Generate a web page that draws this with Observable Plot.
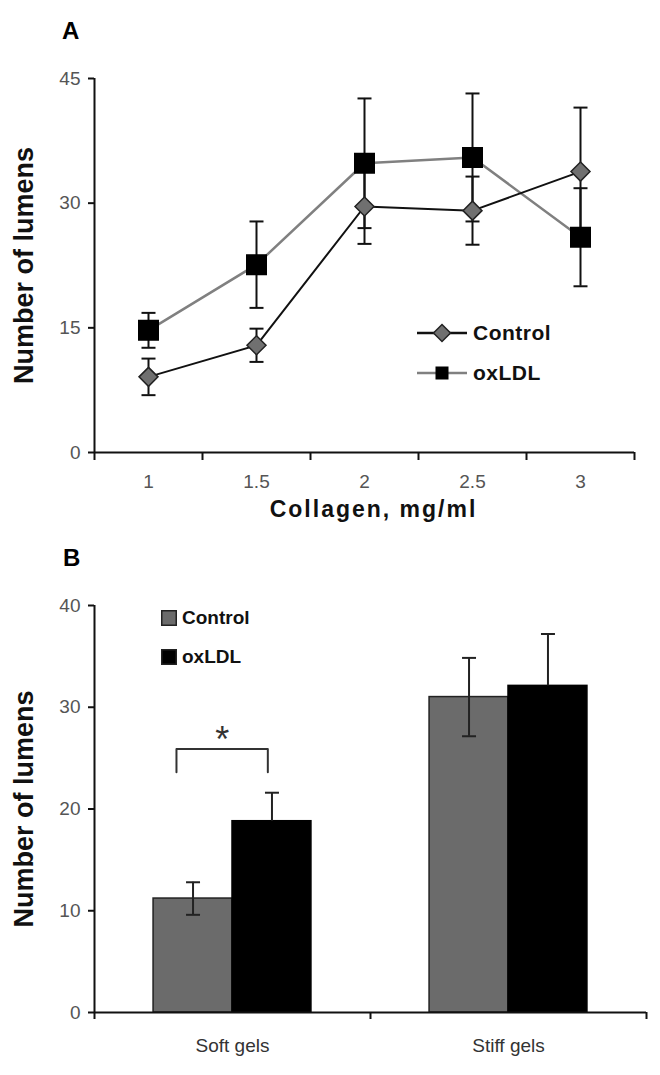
<!DOCTYPE html>
<html><head><meta charset="utf-8">
<script src="https://cdn.jsdelivr.net/npm/d3@7"></script>
<script src="https://cdn.jsdelivr.net/npm/@observablehq/plot@0.6"></script>
<style>
html,body{margin:0;padding:0;background:#fff;}
body{width:660px;height:1075px;position:relative;overflow:hidden;font-family:"Liberation Sans",Arial,sans-serif;}
.panel{position:absolute;left:0;}
.panel svg{display:block;}
#panelA{top:0;} #panelB{top:540px;}
.letter{position:absolute;font-weight:bold;font-size:24px;line-height:24px;color:#000;}
.legend{position:absolute;font-weight:bold;color:#111;}
.legend .row{display:flex;align-items:center;}
.legend svg{display:block;}
</style></head><body>
<div id="panelA" class="panel"></div>
<div id="panelB" class="panel"></div>
<div class="letter" style="left:62px;top:19px;">A</div>
<div class="letter" style="left:63px;top:546px;">B</div>
<div class="legend" id="legendA" style="left:417px;top:313px;font-size:21px;letter-spacing:0.5px;"></div>
<div class="legend" id="legendB" style="left:161px;top:598px;font-size:19px;"></div>
<script>
// ---- Panel A data ----
const collagen = [1, 1.5, 2, 2.5, 3];
const controlMean = [9.1, 12.9, 29.6, 29.1, 33.8];
const controlErr = [2.2, 2.0, 4.5, 4.1, 7.7];
const oxldlMean = [14.7, 22.6, 34.8, 35.5, 25.9];
const oxldlErr = [2.1, 5.2, 7.8, 7.7, 5.9];
const yTicksA = [0, 15, 30, 45];

// ---- Panel B data ----
const gels = ["Soft gels", "Stiff gels"];
const barSeries = ["Control", "oxLDL"];
const barControl = [11.2, 31.0];
const barControlErr = [1.6, 3.85];
const barOxldl = [18.8, 32.1];
const barOxldlErr = [2.8, 5.1];
const yTicksB = [0, 10, 20, 30, 40];

const FONT = "Liberation Sans, Arial, sans-serif";
const capSymbol = {draw(ctx, size){const r = Math.sqrt(size / Math.PI); ctx.moveTo(-r, 0); ctx.lineTo(r, 0);}};
const diamondSymbol = {draw(ctx, size){const r = Math.sqrt(size / Math.PI); ctx.moveTo(0, -r); ctx.lineTo(r, 0); ctx.lineTo(0, r); ctx.lineTo(-r, 0); ctx.closePath();}};

// ---- Panel A ----
const ctrl = collagen.map((c, i) => ({series: "Control", x: c, y: controlMean[i], e: controlErr[i]}));
const ox = collagen.map((c, i) => ({series: "oxLDL", x: c, y: oxldlMean[i], e: oxldlErr[i]}));
const allA = ox.concat(ctrl);
const step = collagen[1] - collagen[0];
const xDomainA = [collagen[0] - step / 2, collagen[collagen.length - 1] + step / 2];
const xBoundsA = d3.range(collagen.length + 1).map(i => xDomainA[0] + i * step);

const plotA = Plot.plot({
  width: 660, height: 540, marginLeft: 94, marginRight: 26, marginTop: 78, marginBottom: 88,
  style: {fontFamily: FONT, background: "white", overflow: "visible"},
  x: {domain: xDomainA, label: null},
  y: {domain: [0, 45], label: null},
  marks: [
    Plot.ruleX([xDomainA[0]], {y1: 0, y2: 45, stroke: "#111", strokeWidth: 2}),
    Plot.ruleY([0], {stroke: "#111", strokeWidth: 2}),
    Plot.axisY({ticks: yTicksA, tickSize: 6, tickPadding: 8, fontSize: 19, stroke: "#111", strokeWidth: 2, fill: "#555", label: null}),
    Plot.axisX({ticks: xBoundsA, tickSize: 8, tickFormat: () => "", stroke: "#111", strokeWidth: 2, label: null}),
    Plot.axisX({ticks: collagen, tickSize: 0, tickPadding: 22, fontSize: 19, fill: "#555", tickFormat: d => `${d}`, label: null}),
    Plot.ruleX(allA, {x: "x", y1: d => d.y - d.e, y2: d => d.y + d.e, stroke: "#111", strokeWidth: 2}),
    Plot.dot(allA, {x: "x", y: d => d.y + d.e, symbol: capSymbol, r: 7, stroke: "#111", strokeWidth: 2, fill: "none"}),
    Plot.dot(allA, {x: "x", y: d => d.y - d.e, symbol: capSymbol, r: 7, stroke: "#111", strokeWidth: 2, fill: "none"}),
    Plot.line(ox, {x: "x", y: "y", stroke: "#808080", strokeWidth: 2.5}),
    Plot.line(ctrl, {x: "x", y: "y", stroke: "#111", strokeWidth: 2}),
    Plot.dot(ox, {x: "x", y: "y", symbol: "square", r: 11, fill: "#000", stroke: "#000"}),
    Plot.dot(ctrl, {x: "x", y: "y", symbol: diamondSymbol, r: 9.5, fill: "#707070", stroke: "#222", strokeWidth: 1.5}),
    Plot.text(["Number of lumens"], {frameAnchor: "left", textAnchor: "middle", dx: -70, rotate: -90, fontSize: 27, fontWeight: "bold", fill: "#111"}),
    Plot.text(["Collagen, mg/ml"], {frameAnchor: "bottom", dx: 9, dy: 64, fontSize: 23, fontWeight: "bold", fill: "#111"})
  ]
});
document.getElementById("panelA").appendChild(plotA);

// ---- Panel B ----
const barRows = [];
gels.forEach((g, i) => {
  barRows.push({gel: g, gi: i, series: barSeries[0], v: barControl[i], e: barControlErr[i]});
  barRows.push({gel: g, gi: i, series: barSeries[1], v: barOxldl[i], e: barOxldlErr[i]});
});
const BW = 0.286; // bar width, in band units
const bx1 = d => d.gi + 0.5 + (d.series === barSeries[0] ? -BW : 0);
const bx2 = d => bx1(d) + BW;
const bxc = d => bx1(d) + BW / 2;
const ctrlBars = barRows.filter(d => d.series === barSeries[0]);
const oxBars = barRows.filter(d => d.series === barSeries[1]);

// significance bracket for the soft gels
const sCtrl = ctrlBars[0], sOx = oxBars[0];
const bracketBase = Math.max(sCtrl.v + sCtrl.e, sOx.v + sOx.e);
const bL = bxc(sCtrl) - 0.06, bR = bxc(sOx) - 0.015;
const bracket = [
  {x: bL, y: bracketBase + 2.0}, {x: bL, y: bracketBase + 4.3},
  {x: bR, y: bracketBase + 4.3}, {x: bR, y: bracketBase + 2.0}
];

const plotB = Plot.plot({
  width: 660, height: 535, marginLeft: 94, marginRight: 14, marginTop: 65, marginBottom: 63,
  style: {fontFamily: FONT, background: "white", overflow: "visible"},
  x: {domain: [0, gels.length], label: null},
  y: {domain: [0, 40], label: null},
  marks: [
    Plot.rect(ctrlBars, {x1: bx1, x2: bx2, y1: 0, y2: "v", fill: "#6b6b6b", stroke: "#222", strokeWidth: 1.5}),
    Plot.rect(oxBars, {x1: bx1, x2: bx2, y1: 0, y2: "v", fill: "#000", stroke: "#000", strokeWidth: 1.5}),
    Plot.ruleX([0], {y1: 0, y2: 40, stroke: "#111", strokeWidth: 2}),
    Plot.ruleY([0], {stroke: "#111", strokeWidth: 2}),
    Plot.axisY({ticks: yTicksB, tickSize: 6, tickPadding: 8, fontSize: 19, stroke: "#111", strokeWidth: 2, fill: "#555", label: null}),
    Plot.axisX({ticks: d3.range(gels.length + 1), tickSize: 7, tickFormat: () => "", stroke: "#111", strokeWidth: 2, label: null}),
    Plot.axisX({ticks: gels.map((g, i) => i + 0.5), tickSize: 0, tickPadding: 26, fontSize: 19, fill: "#333", tickFormat: d => gels[Math.floor(d)], label: null}),
    Plot.ruleX(ctrlBars, {x: bxc, y1: d => d.v - d.e, y2: d => d.v + d.e, stroke: "#222", strokeWidth: 2}),
    Plot.dot(ctrlBars, {x: bxc, y: d => d.v + d.e, symbol: capSymbol, r: 7, stroke: "#222", strokeWidth: 2, fill: "none"}),
    Plot.dot(ctrlBars, {x: bxc, y: d => d.v - d.e, symbol: capSymbol, r: 7, stroke: "#222", strokeWidth: 2, fill: "none"}),
    Plot.ruleX(oxBars, {x: bxc, y1: "v", y2: d => d.v + d.e, stroke: "#222", strokeWidth: 2}),
    Plot.dot(oxBars, {x: bxc, y: d => d.v + d.e, symbol: capSymbol, r: 7, stroke: "#222", strokeWidth: 2, fill: "none"}),
    Plot.line(bracket, {x: "x", y: "y", stroke: "#333", strokeWidth: 2}),
    Plot.text(["*"], {x: (bL + bR) / 2, y: bracketBase + 5.1, fontSize: 36, fill: "#333"}),
    Plot.text(["Number of lumens"], {frameAnchor: "left", textAnchor: "middle", dx: -70, rotate: -90, fontSize: 27, fontWeight: "bold", fill: "#111"})
  ]
});
document.getElementById("panelB").appendChild(plotB);

// letter spacing on the x-axis title of panel A
plotA.querySelectorAll("text").forEach(t => { if (t.textContent === "Collagen, mg/ml") t.style.letterSpacing = "2px"; });

// ---- Legends (HTML overlays) ----
function legendRowA(name, i) {
  const marker = i === 0
    ? `<path d="M25,3.5 L33.5,12 L25,20.5 L16.5,12 Z" fill="#707070" stroke="#222" stroke-width="1.5"/>`
    : `<rect x="18.5" y="5.5" width="13" height="13" fill="#000"/>`;
  const col = i === 0 ? "#111" : "#808080";
  return `<div class="row" style="height:40px"><svg width="50" height="24"><line x1="0" x2="50" y1="12" y2="12" stroke="${col}" stroke-width="2.5"/>${marker}</svg><span style="margin-left:6px">${name}</span></div>`;
}
document.getElementById("legendA").innerHTML = barSeries.map(legendRowA).join("");
function legendRowB(name, i) {
  const fill = i === 0 ? "#6b6b6b" : "#000";
  return `<div class="row" style="height:39px"><svg width="16" height="16"><rect x="0.75" y="0.75" width="14.5" height="14.5" fill="${fill}" stroke="#222" stroke-width="1.5"/></svg><span style="margin-left:5px">${name}</span></div>`;
}
document.getElementById("legendB").innerHTML = barSeries.map(legendRowB).join("");
</script>
</body></html>
